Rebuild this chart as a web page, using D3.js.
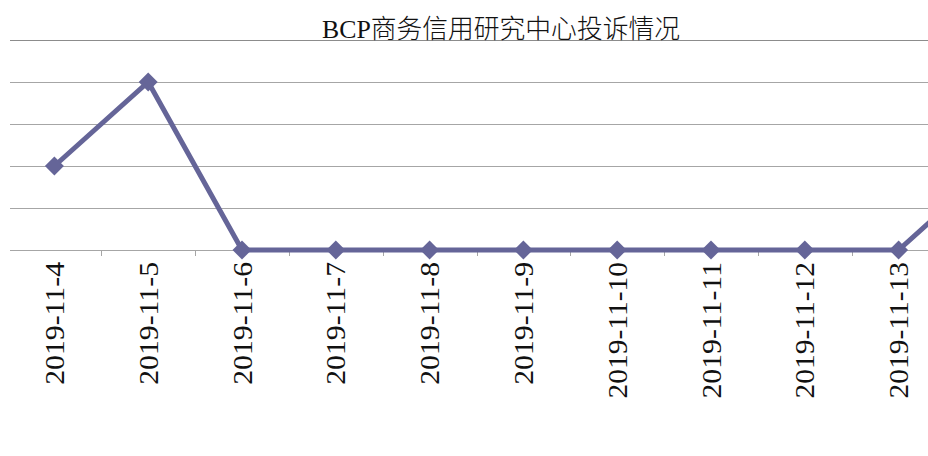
<!DOCTYPE html>
<html lang="zh">
<head>
  <meta charset="UTF-8">
  <title>BCP商务信用研究中心投诉情况</title>
  <script src="https://d3js.org/d3.v7.min.js"></script>
  <style>
    body { margin: 0; background: #fff; }
    svg { display: block; }
  </style>
</head>
<body>
  <svg id="chart" width="928" height="456"></svg>
<script>
  // data
  const dates = ["2019-11-4", "2019-11-5", "2019-11-6", "2019-11-7", "2019-11-8",
                 "2019-11-9", "2019-11-10", "2019-11-11", "2019-11-12", "2019-11-13", "2019-11-14"];
  const complaints = [2, 4, 0, 0, 0, 0, 0, 0, 0, 0, 2];
  const yTicks = [0, 1, 2, 3, 4, 5];
  const title = "BCP商务信用研究中心投诉情况";

  const width = 928;
  const color = "#656598";

  const svg = d3.select("#chart");

  // the chart is cut off on the right, so the band range runs past the svg
  const x = d3.scaleBand()
    .domain(dates)
    .range([7.5, 7.5 + dates.length * 93.8]);

  const cx = d => x(d) + x.bandwidth() / 2;

  const y = d3.scaleLinear()
    .domain([0, 5])
    .range([250, 40]);

  // gridlines
  svg.append("g")
    .selectAll("line")
    .data(yTicks)
    .join("line")
    .attr("x1", 10)
    .attr("x2", width)
    .attr("y1", d => y(d))
    .attr("y2", d => y(d))
    .attr("stroke", d => d === 5 ? "#8c8c8c" : "#a6a6a6")
    .attr("stroke-width", 1)
    .attr("shape-rendering", "crispEdges");

  // tick marks between categories (only those inside the picture)
  svg.append("g")
    .selectAll("line")
    .data(dates.slice(1).filter(d => x(d) < width))
    .join("line")
    .attr("x1", d => Math.round(x(d)) + 0.5)
    .attr("x2", d => Math.round(x(d)) + 0.5)
    .attr("y1", y(0))
    .attr("y2", y(0) + 6)
    .attr("stroke", "#a6a6a6")
    .attr("stroke-width", 1);

  // category labels, rotated; the last one falls outside the crop
  svg.append("g")
    .selectAll("text")
    .data(dates.filter(d => cx(d) + 12 < width))
    .join("text")
    .attr("transform", d => `translate(${cx(d)},262) rotate(-90)`)
    .attr("text-anchor", "end")
    .attr("dy", "0.34em")
    .attr("font-family", "'Liberation Serif', serif")
    .attr("font-size", 28)
    .attr("fill", "#111")
    .attr("textLength", d => d.length * 13.65)
    .attr("lengthAdjust", "spacingAndGlyphs")
    .text(d => d);

  // the line
  const line = d3.line()
    .x((d, i) => cx(dates[i]))
    .y(d => y(d));

  svg.append("path")
    .datum(complaints)
    .attr("d", line)
    .attr("fill", "none")
    .attr("stroke", color)
    .attr("stroke-width", 5)
    .attr("stroke-linejoin", "miter");

  // diamond markers
  svg.append("g")
    .selectAll("path")
    .data(complaints)
    .join("path")
    .attr("transform", (d, i) => `translate(${cx(dates[i])},${y(d)}) rotate(45)`)
    .attr("d", d3.symbol(d3.symbolSquare, 180))
    .attr("fill", color);

  // title
  svg.append("text")
    .attr("x", 501)
    .attr("y", 38)
    .attr("text-anchor", "middle")
    .attr("font-family", "'Liberation Serif', 'Noto Sans CJK SC', serif")
    .attr("font-size", 26)
    .attr("font-weight", 300)
    .attr("fill", "#111")
    .attr("textLength", 358)
    .attr("lengthAdjust", "spacingAndGlyphs")
    .text(title);
</script>
</body>
</html>
